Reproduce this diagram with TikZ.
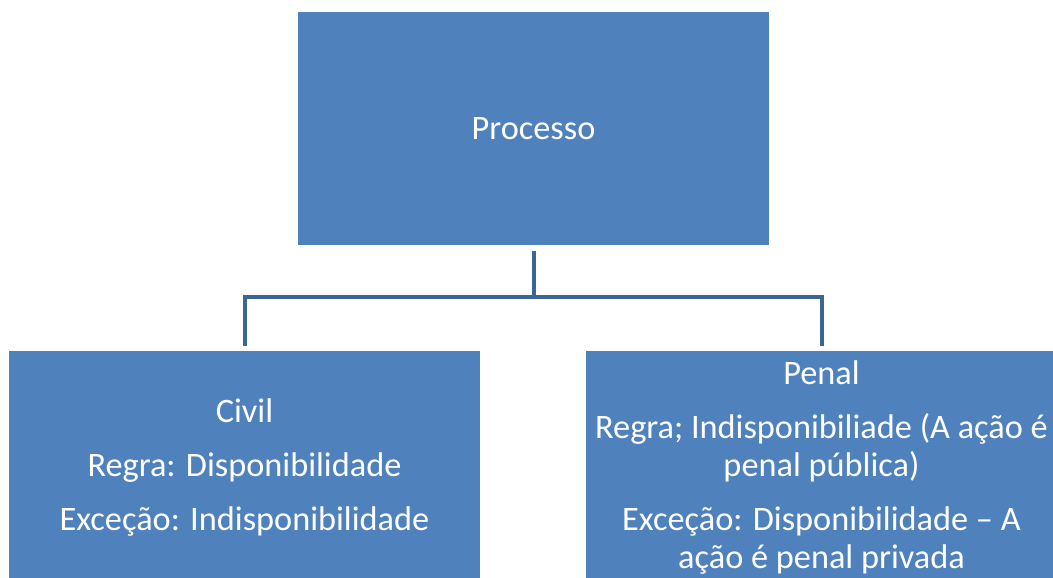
\documentclass[tikz,border=0pt]{standalone}
\usepackage{fontspec}
\setmainfont{Carlito}
\usetikzlibrary{positioning}
\definecolor{boxblue}{HTML}{4F81BD}
\definecolor{linkblue}{HTML}{3B6594}

\begin{document}
\begin{tikzpicture}[
    x = 1pt,
    y = -1pt,
    semithick,
    ]

    \tikzstyle{box}=[
    rectangle,
    fill = boxblue,
    text = white,
    minimum width = 471pt,
    minimum height = 233pt,
    inner sep = 0pt,
    align = center,
    font = \fontsize{34.3}{38}\selectfont,
    ]
    \tikzstyle{link}=[
    draw = linkblue,
    line width = 4pt,
    shorten <= 6pt,
    shorten >= 5pt,
    ]

    \useasboundingbox (0,0) rectangle (1053,578);
    \clip (0,0) rectangle (1053,578);

    \node[box] (proc) at (533.5,128.5) {Processo};
    \node[box] (civil) at (244.5,467.5) {Civil\\[16pt]
      Regra: Disponibilidade\\[16pt]
      Exceção: Indisponibilidade};
    \node[box] (penal) at (821.5,467.5) {Penal\\[16pt]
      Regra; Indisponibiliade (A ação é\\
      penal pública)\\[16pt]
      Exceção: Disponibilidade – A\\
      ação é penal privada};

    \path[link] (proc.south) -- ++(0,52) -| (civil.north);
    \path[link] (proc.south) -- ++(0,52) -| (penal.north);
  \end{tikzpicture}
\end{document}
